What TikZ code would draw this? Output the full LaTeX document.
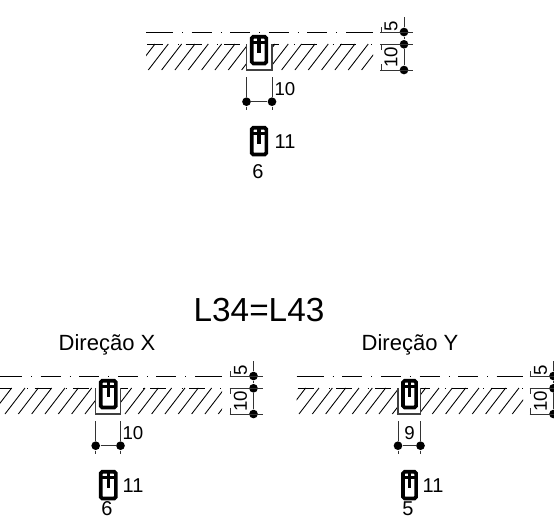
\documentclass[tikz,border=0pt]{standalone}
\usepackage{fontspec}
\setmainfont{Liberation Sans}

\tikzset{every picture/.style={line width=0.75pt}}
\tikzset{
  dimdot/.style={circle,fill=black,inner sep=0pt,minimum size=6.5pt},
  dimtxt/.style={font=\fontsize{14}{14}\selectfont,inner sep=0pt},
  bartxt/.style={font=\fontsize{15}{15}\selectfont,inner sep=0pt},
  headtxt/.style={font=\fontsize{16.5}{16.5}\selectfont,inner sep=0pt},
  titletxt/.style={font=\fontsize{25}{25}\selectfont,inner sep=0pt},
  dimline/.style={line width=0.75pt,color=black!80},
  hatchline/.style={line width=0.65pt},
  axisline/.style={line width=0.75pt,dash pattern=on 15pt off 6.75pt on 0.75pt off 6.45pt},
  edgeline/.style={line width=0.75pt,dash pattern=on 12pt off 11.5pt on 0.75pt off 4.7pt},
}

% stirrup section: outer left, outer top, outer width
\newcommand{\stirrup}[3]{
  \draw [line width=2.7pt,rounded corners=1.2pt,fill=white] (#1+1.7,#2+1.7) rectangle ++(#3-3.4,26.8);
  \draw [line width=2.2pt] (#1+1,#2+7.5) -- ++(#3-2,0);
  \draw [line width=2.6pt] (#1+#3/2,#2+1) -- ++(0,17);
}

% args: name, beam left, beam right, notch left, notch right, bar left, bar width, dim x, hatch phase
\newcommand{\beamdetail}[9]{
  %Axis
  \draw [line width=0.75pt] (#2,0) -- ++(8,0);
  \draw [axisline] (#2+7,0) -- (#3-7,0);
  \draw [line width=0.75pt] (#3-8,0) -- (#3,0);
  %Hatching and top edge
  \begin{scope}
    \clip (#2,11) rectangle (#4,38) (#5,11) rectangle (#3,38);
    \draw [edgeline] (#2+1,12.3) -- (#3,12.3);
    \foreach \k in {-2,...,17} {
      \draw [hatchline] ({#2+#9+\k*13.33},38) -- ++(20,-26);
    }
  \end{scope}
  %Notch
  \draw [line width=0.9pt,color=black!75] (#4,12.3) -- (#4,38) -- (#5,38) -- (#5,12.3);
  \stirrup{#6}{3}{#7}
  %Right dimension
  \node [dimdot] (#1a) at (#8,0) {};
  \node [dimdot] (#1b) at (#8,12.3) {};
  \node [dimdot] (#1c) at (#8,38) {};
  \coordinate (#1top) at (#8,-15);
  \draw [dimline] (#1top) -- (#1a) -- (#1b) -- (#1c);
  \draw [dimline] (#8-24,0) -- (#8+9,0);
  \draw [dimline] (#8-24,12.3) -- (#8+9,12.3);
  \draw [dimline] (#8-24,38) -- (#8+9,38);
  \draw [dimline] (#8-23,-5) -- ++(0,5);
  \draw [dimline] (#8-23,12.3) -- ++(0,6);
  \draw [dimline] (#8-23,32) -- ++(0,6);
  \node [dimtxt,rotate=90] (#1five) at (#8-13,-5.5) {5};
  \node [dimtxt,rotate=90] (#1ten) at (#8-13,25) {10};
  %Lower dimension
  \node [dimdot] (#1l) at (#4,69.7) {};
  \node [dimdot] (#1r) at (#5,69.7) {};
  \coordinate (#1lt) at (#4,45);
  \coordinate (#1lb) at (#4,78);
  \coordinate (#1rt) at (#5,45);
  \coordinate (#1rb) at (#5,78);
  \draw [dimline] (#1lt) -- (#1l) -- (#1lb);
  \draw [dimline] (#1rt) -- (#1r) -- (#1rb);
  \draw [dimline] (#1l) -- (#1r);
  %Single bar
  \stirrup{#6}{94}{#7}
}

\begin{document}
\begin{tikzpicture}[x=0.75pt,y=0.75pt,yscale=-1,xscale=1]
\useasboundingbox (0,0) rectangle (554,519);

%Upper detail
\begin{scope}[shift={(0,32)}]
  \beamdetail{p}{146}{373}{246.5}{272}{250}{18}{404}{2.3}
  \node [dimtxt] (pw) at (285,57) {10};
  \node [bartxt] (pbar) at (285,109.5) {11};
  \node [bartxt] (pn) at (258,140) {6};
\end{scope}

%Title
\node [titletxt] (title) at (259,310) {L34=L43};

%Direction X
\node [headtxt] (hx) at (107,345) {Direção X};
\begin{scope}[shift={(0,376)}]
  \beamdetail{x}{-5}{222}{95.7}{120.5}{99}{18.5}{253.5}{10}
  \node [dimtxt] (xw) at (133,57) {10};
  \node [bartxt] (xbar) at (133,110) {11};
  \node [bartxt] (xn) at (107,133) {6};
\end{scope}

%Direction Y
\node [headtxt] (hy) at (410,345) {Direção Y};
\begin{scope}[shift={(0,376)}]
  \beamdetail{y}{296.7}{523}{398}{420.5}{401.3}{16.5}{553.5}{2.3}
  \node [dimtxt] (yw) at (409.5,57) {9};
  \node [bartxt] (ybar) at (433,110) {11};
  \node [bartxt] (yn) at (408,133) {5};
\end{scope}
\end{tikzpicture}
\end{document}
